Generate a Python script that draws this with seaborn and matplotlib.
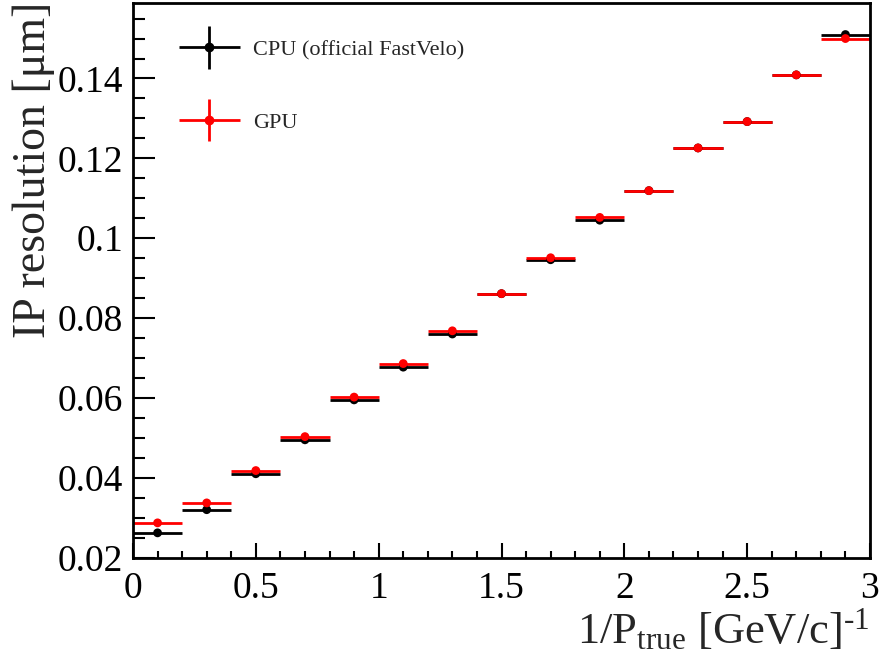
import numpy as np
import pandas as pd
import matplotlib
matplotlib.use("Agg")
import matplotlib.pyplot as plt
import seaborn as sns
from matplotlib.ticker import MultipleLocator, FuncFormatter
from matplotlib.legend_handler import HandlerErrorbar

# ---- data ----
bin_centers = [0.1, 0.3, 0.5, 0.7, 0.9, 1.1, 1.3, 1.5, 1.7, 1.9, 2.1, 2.3, 2.5, 2.7, 2.9]
bin_half_width = 0.1
cpu_res = [0.0262, 0.0320, 0.0410, 0.0495, 0.0595, 0.0677, 0.0760, 0.0861, 0.0946,
           0.1045, 0.1119, 0.1226, 0.1292, 0.1409, 0.1510]
gpu_res = [0.0287, 0.0337, 0.0418, 0.0503, 0.0602, 0.0686, 0.0768, 0.0861, 0.0951,
           0.1052, 0.1119, 0.1226, 0.1292, 0.1409, 0.1500]
cpu_label = "CPU (official FastVelo)"
gpu_label = "GPU"

df = pd.concat([
    pd.DataFrame({"x": bin_centers, "y": cpu_res, "impl": cpu_label}),
    pd.DataFrame({"x": bin_centers, "y": gpu_res, "impl": gpu_label}),
])

sns.set_theme(style="ticks")
plt.rcParams["font.family"] = ["Liberation Serif", "DejaVu Serif"]
plt.rcParams["mathtext.fontset"] = "custom"
plt.rcParams["mathtext.rm"] = "Liberation Serif"
plt.rcParams["mathtext.it"] = "Liberation Serif:italic"

fig = plt.figure(figsize=(8.82, 6.66), dpi=100)
ax = fig.add_axes([133 / 882, 1 - 558 / 666, (870 - 133) / 882, (558 - 3) / 666])

colors = {cpu_label: "black", gpu_label: "red"}
for impl in [cpu_label, gpu_label]:
    sub = df[df["impl"] == impl]
    ax.errorbar(sub["x"], sub["y"], xerr=bin_half_width, fmt="none",
                ecolor=colors[impl], elinewidth=2.0, capsize=0, zorder=2)
sns.scatterplot(data=df, x="x", y="y", hue="impl", palette=colors, s=40,
                edgecolor="none", legend=False, ax=ax, zorder=3)

# legend handles
handles = []
for impl in [cpu_label, gpu_label]:
    h = ax.errorbar([np.nan], [np.nan], xerr=[0.1], yerr=[0.01], fmt="o",
                    color=colors[impl], ms=6, elinewidth=2.0, capsize=0, label=impl)
    handles.append(h)
leg = ax.legend(handles=handles, loc="upper left", bbox_to_anchor=(0.051, 0.95),
                frameon=False, fontsize=16, handlelength=2.7, handletextpad=0.6,
                labelspacing=2.34, borderaxespad=0,
                handler_map={type(handles[0]): HandlerErrorbar(xerr_size=1.36, yerr_size=0.95)})

ax.set_xlim(0, 3)
ax.set_ylim(0.0199, 0.1589)
ax.xaxis.set_major_locator(MultipleLocator(0.5))
ax.xaxis.set_minor_locator(MultipleLocator(0.1))
ax.yaxis.set_major_locator(MultipleLocator(0.02))
ax.yaxis.set_minor_locator(MultipleLocator(0.005))
fmt = FuncFormatter(lambda v, p: f"{v:g}")
ax.xaxis.set_major_formatter(fmt)
ax.yaxis.set_major_formatter(fmt)

ax.tick_params(axis="both", which="both", direction="in", top=False, right=False,
               width=1.5, labelsize=27, colors="black")
ax.tick_params(axis="x", which="major", length=11, pad=10)
ax.tick_params(axis="x", which="minor", length=5)
ax.tick_params(axis="y", which="major", length=16, pad=7)
ax.tick_params(axis="y", which="minor", length=8.5)
for s in ax.spines.values():
    s.set_linewidth(2.0)
    s.set_color("black")

ax.set_xlabel("1/P$_{\\mathrm{true}}$ [GeV/c]$^{\\mathrm{\u2010}1}$", fontsize=32, loc="right", labelpad=0)
ax.set_ylabel("IP resolution [μm]", fontsize=33, loc="top")
ax.yaxis.set_label_coords(-0.106, 1.003)

fig.savefig("out.png", dpi=100)
